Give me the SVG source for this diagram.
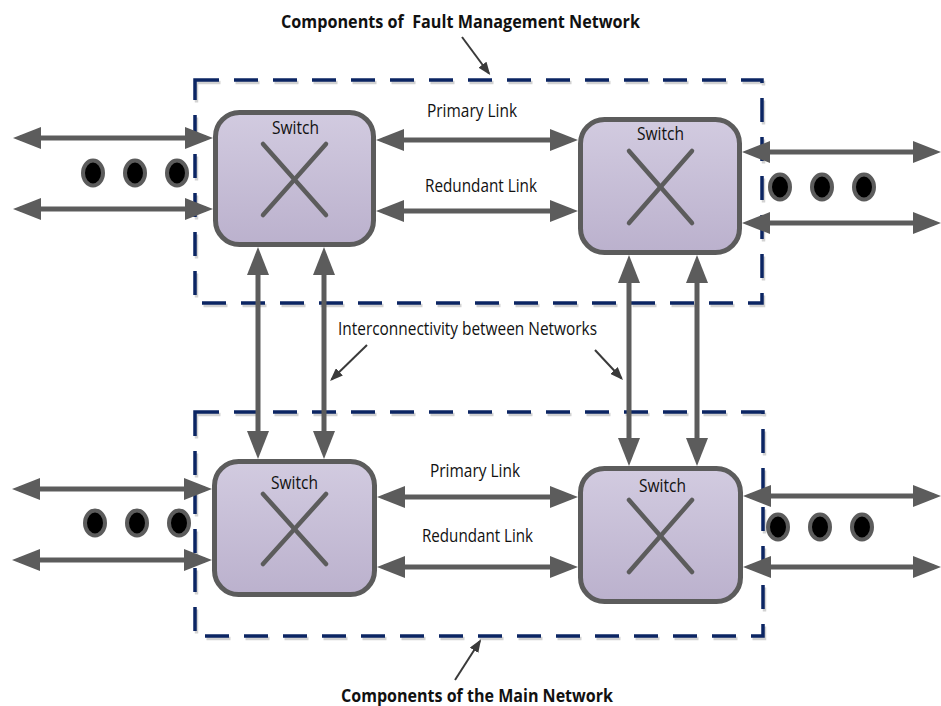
<svg xmlns="http://www.w3.org/2000/svg" width="941" height="706" viewBox="0 0 941 706">
  <style>
    .lbl { font-family: "Open Sans", "Liberation Sans", sans-serif; font-size: 17.5px; fill: #111; }
    .ttl { font-family: "Open Sans", "Liberation Sans", sans-serif; font-size: 18px; font-weight: bold; fill: #111; }
    .frame { fill: none; stroke: #0b2563; stroke-width: 3.5; stroke-dasharray: 24 15; }
    .frame-shadow { fill: none; stroke: #d2d2d2; stroke-width: 3.5; stroke-dasharray: 24 15; }
    .sw { fill: url(#swFill); stroke: #5c5c5c; stroke-width: 5; }
    .cross { stroke: #5c5c5c; stroke-width: 4.5; stroke-linecap: round; fill: none; }
    .link { stroke: #5c5c5c; stroke-width: 5; fill: none; marker-start: url(#head); marker-end: url(#head); }
    .ptr { stroke: #3a3a3a; stroke-width: 2; fill: none; marker-end: url(#tip); }
    .dot { fill: #000; stroke: #5c5c5c; stroke-width: 4; }
  </style>
  <defs>
    <linearGradient id="swFill" x1="0" y1="0" x2="0" y2="1">
      <stop offset="0" stop-color="#d2cbe0"/>
      <stop offset="1" stop-color="#bbb1cd"/>
    </linearGradient>
    <marker id="head" markerUnits="userSpaceOnUse" markerWidth="28" markerHeight="22" refX="21" refY="11" orient="auto-start-reverse">
      <path d="M0,0 L28,11 L0,22 Z" fill="#5c5c5c"/>
    </marker>
    <marker id="tip" markerUnits="userSpaceOnUse" markerWidth="13" markerHeight="10" refX="11" refY="5" orient="auto">
      <path d="M0,0 L13,5 L0,10 Z" fill="#3a3a3a"/>
    </marker>
  </defs>

  <rect width="941" height="706" fill="#fff"/>

  <!-- network boundaries -->
  <g id="fault-network">
    <rect class="frame-shadow" x="196.5" y="82.5" width="567" height="223"/>
    <rect class="frame" x="195" y="80" width="567" height="223"/>
  </g>
  <g id="main-network">
    <rect class="frame-shadow" x="196.5" y="414.5" width="568" height="224"/>
    <rect class="frame" x="195" y="412" width="568" height="224"/>
  </g>

  <!-- connectors -->
  <g id="connectors">
    <!-- external ports, fault network -->
    <line class="link" x1="20" y1="138" x2="206" y2="138"/>
    <line class="link" x1="20" y1="209" x2="206" y2="209"/>
    <line class="link" x1="749" y1="152" x2="934" y2="152"/>
    <line class="link" x1="749" y1="223" x2="934" y2="223"/>
    <!-- links between fault-network switches -->
    <line class="link" x1="383" y1="140" x2="571" y2="140"/>
    <line class="link" x1="383" y1="211" x2="571" y2="211"/>
    <!-- external ports, main network -->
    <line class="link" x1="19" y1="489" x2="205" y2="489"/>
    <line class="link" x1="19" y1="560" x2="205" y2="560"/>
    <line class="link" x1="750" y1="496" x2="934" y2="496"/>
    <line class="link" x1="750" y1="567" x2="934" y2="567"/>
    <!-- links between main-network switches -->
    <line class="link" x1="384" y1="497" x2="571" y2="497"/>
    <line class="link" x1="384" y1="567" x2="571" y2="567"/>
    <!-- interconnections between the two networks -->
    <line class="link" x1="258" y1="254" x2="258" y2="452"/>
    <line class="link" x1="324" y1="254" x2="324" y2="452"/>
    <line class="link" x1="629" y1="262" x2="629" y2="459"/>
    <line class="link" x1="697" y1="262" x2="697" y2="459"/>
    <!-- label pointers -->
    <line class="ptr" x1="462" y1="37" x2="489" y2="73.5"/>
    <line class="ptr" x1="367" y1="345" x2="331.5" y2="379.5"/>
    <line class="ptr" x1="595" y1="350" x2="621.6" y2="378.5"/>
    <line class="ptr" x1="455" y1="680" x2="480" y2="641"/>
  </g>

  <!-- switches -->
  <g id="switch-fault-left">
    <rect class="sw" x="215.5" y="112.5" width="158" height="132" rx="24"/>
    <text class="lbl" x="272" y="134" textLength="47" lengthAdjust="spacingAndGlyphs">Switch</text>
    <line class="cross" x1="263" y1="144" x2="326" y2="215"/>
    <line class="cross" x1="263" y1="215" x2="326" y2="144"/>
  </g>
  <g id="switch-fault-right">
    <rect class="sw" x="580.5" y="119.5" width="159" height="133" rx="24"/>
    <text class="lbl" x="637" y="140" textLength="47" lengthAdjust="spacingAndGlyphs">Switch</text>
    <line class="cross" x1="629" y1="151" x2="692" y2="223"/>
    <line class="cross" x1="629" y1="223" x2="692" y2="151"/>
  </g>
  <g id="switch-main-left">
    <rect class="sw" x="214.5" y="461.5" width="160" height="133" rx="24"/>
    <text class="lbl" x="271" y="489" textLength="47" lengthAdjust="spacingAndGlyphs">Switch</text>
    <line class="cross" x1="263" y1="494" x2="326" y2="564"/>
    <line class="cross" x1="263" y1="564" x2="326" y2="494"/>
  </g>
  <g id="switch-main-right">
    <rect class="sw" x="580.5" y="468.5" width="160" height="133" rx="24"/>
    <text class="lbl" x="639" y="492" textLength="47" lengthAdjust="spacingAndGlyphs">Switch</text>
    <line class="cross" x1="629" y1="500" x2="692" y2="572"/>
    <line class="cross" x1="629" y1="572" x2="692" y2="500"/>
  </g>

  <!-- further ports -->
  <g id="more-ports">
    <ellipse class="dot" cx="93" cy="173" rx="10" ry="12.5"/>
    <ellipse class="dot" cx="135" cy="173" rx="10" ry="12.5"/>
    <ellipse class="dot" cx="177" cy="173" rx="10" ry="12.5"/>
    <ellipse class="dot" cx="780" cy="187" rx="10" ry="12.5"/>
    <ellipse class="dot" cx="822" cy="187" rx="10" ry="12.5"/>
    <ellipse class="dot" cx="864" cy="187" rx="10" ry="12.5"/>
    <ellipse class="dot" cx="95" cy="523" rx="10" ry="12.5"/>
    <ellipse class="dot" cx="137" cy="523" rx="10" ry="12.5"/>
    <ellipse class="dot" cx="179" cy="523" rx="10" ry="12.5"/>
    <ellipse class="dot" cx="778" cy="527" rx="10" ry="12.5"/>
    <ellipse class="dot" cx="820" cy="527" rx="10" ry="12.5"/>
    <ellipse class="dot" cx="862" cy="527" rx="10" ry="12.5"/>
  </g>

  <!-- labels -->
  <g id="labels">
    <text class="ttl" x="281" y="28" textLength="359" lengthAdjust="spacingAndGlyphs" xml:space="preserve">Components of  Fault Management Network</text>
    <text class="lbl" x="427" y="117" textLength="90" lengthAdjust="spacingAndGlyphs">Primary Link</text>
    <text class="lbl" x="425" y="192" textLength="112" lengthAdjust="spacingAndGlyphs">Redundant Link</text>
    <text class="lbl" x="338" y="335" textLength="259" lengthAdjust="spacingAndGlyphs">Interconnectivity between Networks</text>
    <text class="lbl" x="430" y="477" textLength="90" lengthAdjust="spacingAndGlyphs">Primary Link</text>
    <text class="lbl" x="422" y="542" textLength="111" lengthAdjust="spacingAndGlyphs">Redundant Link</text>
    <text class="ttl" x="341" y="702" textLength="272" lengthAdjust="spacingAndGlyphs">Components of the Main Network</text>
  </g>
</svg>
